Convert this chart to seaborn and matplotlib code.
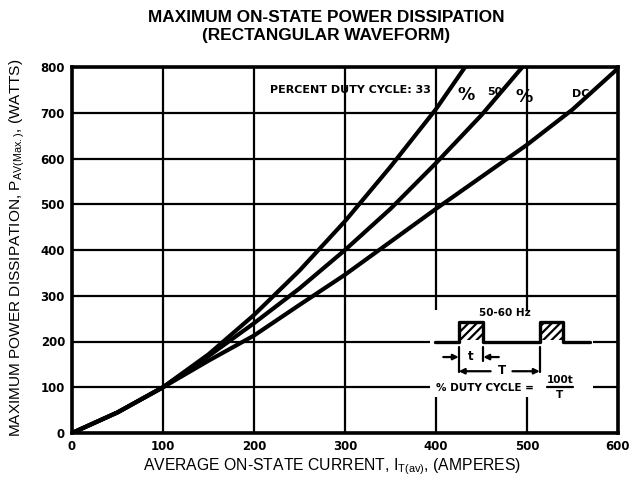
import matplotlib
matplotlib.use("Agg")
import matplotlib.pyplot as plt
import seaborn as sns
import pandas as pd
from matplotlib.patches import Rectangle

# ---- data ----
current_33 = [0, 50, 100, 150, 200, 250, 300, 350, 400, 432]
power_33 = [0, 45, 100, 172, 258, 355, 463, 582, 708, 800]
current_50 = [0, 50, 100, 150, 200, 250, 300, 350, 400, 450, 495]
power_50 = [0, 45, 100, 168, 240, 316, 400, 490, 590, 695, 800]
current_dc = [0, 50, 100, 150, 200, 250, 300, 350, 400, 450, 500, 550, 600]
power_dc = [0, 45, 100, 158, 213, 280, 346, 418, 490, 560, 630, 707, 797]
x_ticks = [0, 100, 200, 300, 400, 500, 600]
y_ticks = [0, 100, 200, 300, 400, 500, 600, 700, 800]

df = pd.concat([
    pd.DataFrame({"I": current_33, "P": power_33, "cycle": "33%"}),
    pd.DataFrame({"I": current_50, "P": power_50, "cycle": "50%"}),
    pd.DataFrame({"I": current_dc, "P": power_dc, "cycle": "DC"}),
], ignore_index=True)

sns.set_style("white")
plt.rcParams["font.family"] = ["Liberation Sans", "DejaVu Sans"]
plt.rcParams["mathtext.default"] = "regular"
plt.rcParams["hatch.linewidth"] = 1.6
for k in ("text.color", "axes.labelcolor", "xtick.color", "ytick.color"):
    plt.rcParams[k] = "black"

fig = plt.figure(figsize=(6.43, 4.79), dpi=100)
ax = fig.add_axes([72 / 643, 46 / 479, 546 / 643, 366 / 479])

sns.lineplot(data=df, x="I", y="P", hue="cycle", units="cycle", estimator=None,
             sort=False, palette=["black", "black", "black"], linewidth=3.0,
             legend=False, ax=ax, zorder=3)

ax.set_xlim(0, 600)
ax.set_ylim(0, 800)
ax.set_xticks(x_ticks)
ax.set_yticks(y_ticks)
ax.set_xticklabels([str(v) for v in x_ticks], fontfamily="DejaVu Sans",
                   fontweight="bold", fontsize=8.5)
ax.set_yticklabels([str(v) for v in y_ticks], fontfamily="DejaVu Sans",
                   fontweight="bold", fontsize=8.5)
ax.tick_params(axis="both", length=0, pad=5)
ax.grid(True, color="black", linewidth=1.6)
ax.set_axisbelow(True)
for s in ax.spines.values():
    s.set_color("black")
    s.set_linewidth(2.6)

ax.set_xlabel(r"AVERAGE ON-STATE CURRENT, I$_{T(av)}$, (AMPERES)", fontsize=11.3)
ax.set_ylabel(r"MAXIMUM POWER DISSIPATION, P$_{AV(Max.)}$, (WATTS)", fontsize=11.1)
ax.xaxis.set_label_coords(0.476, -0.064)
ax.yaxis.set_label_coords(-0.083, 0.505)

fig.text(0.507, 0.963, "MAXIMUM ON-STATE POWER DISSIPATION", ha="center",
         va="center", fontsize=12.4, fontweight="bold")
fig.text(0.507, 0.925, "(RECTANGULAR WAVEFORM)", ha="center", va="center",
         fontsize=12.4, fontweight="bold")

# duty cycle labels
lab = dict(fontsize=8, fontweight="bold", va="center", zorder=4,
           fontfamily="DejaVu Sans")
pct = dict(fontsize=12.5, fontweight="bold", va="center", zorder=4,
           fontfamily="DejaVu Sans")
ax.text(218, 750, "PERCENT DUTY CYCLE: 33", ha="left", **lab)
ax.text(424, 738, "%", ha="left", **pct)
ax.text(456, 745, "50", ha="left", **lab)
ax.text(487, 734, "%", ha="left", **pct)
ax.text(549, 741, "DC", ha="left", **lab)

# ---- waveform inset ----
ax.add_patch(Rectangle((393, 79), 179, 190, facecolor="white", edgecolor="none",
                       zorder=2.5))
ax.plot([399, 425, 425, 452, 452, 514, 514, 540, 540, 569],
        [200, 200, 243, 243, 200, 200, 243, 243, 200, 200],
        color="black", linewidth=2.4, zorder=3)
for x0 in (425, 514):
    ax.add_patch(Rectangle((x0 + 2, 203), 23, 37, hatch="////", fill=False,
                           edgecolor="black", linewidth=0, zorder=3))
ins = dict(ha="center", va="center", fontweight="bold", zorder=4,
           fontfamily="DejaVu Sans")
ax.text(476, 262, "50-60 Hz", fontsize=7.5, **ins)
# ticks
ax.plot([425, 425], [188, 133], color="black", lw=1.6, zorder=3)
ax.plot([452, 452], [188, 158], color="black", lw=1.6, zorder=3)
ax.plot([514, 514], [188, 133], color="black", lw=1.6, zorder=3)
arr = dict(arrowstyle="-|>", color="black", lw=1.6, mutation_scale=8,
           shrinkA=0, shrinkB=0)
ax.annotate("", xy=(425, 166), xytext=(408, 166), arrowprops=arr, zorder=4)
ax.annotate("", xy=(452, 166), xytext=(469, 166), arrowprops=arr, zorder=4)
ax.text(438, 168, "t", fontsize=8.5, **ins)
ax.annotate("", xy=(425, 135), xytext=(460, 135), arrowprops=arr, zorder=4)
ax.annotate("", xy=(514, 135), xytext=(484, 135), arrowprops=arr, zorder=4)
ax.text(472, 137, "T", fontsize=8.5, **ins)
ax.text(454, 98, "% DUTY CYCLE =", fontsize=7.5, **ins)
ax.text(536, 116, "100t", fontsize=7.5, **ins)
ax.text(536, 83, "T", fontsize=7.5, **ins)
ax.plot([522, 551], [100, 100], color="black", lw=1.6, zorder=3)

fig.savefig("out.png", dpi=100)
